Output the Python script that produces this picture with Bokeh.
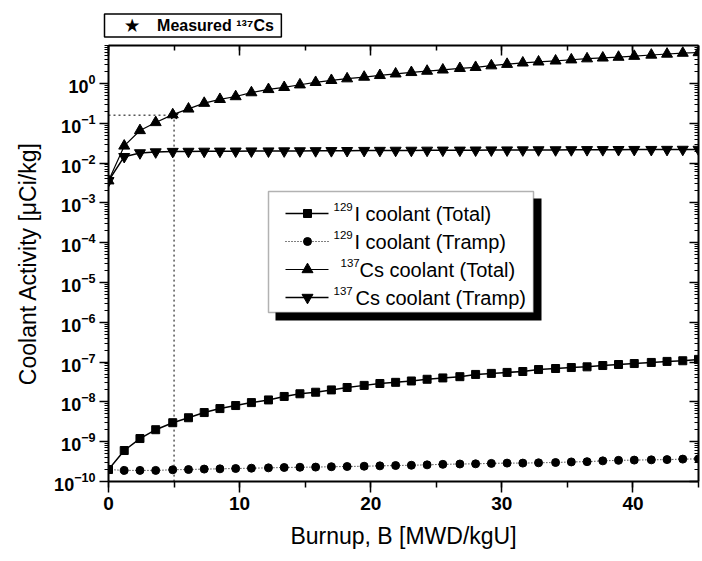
import math
from bokeh.plotting import figure
from bokeh.models import (LinearAxis, LogAxis, Range1d, SingleIntervalTicker,
                          FixedTicker, Label, BoxAnnotation, CustomJSTickFormatter)
from bokeh.embed import file_html
from bokeh.resources import INLINE

# ---------------- data ----------------
burnup = [0.0, 1.2, 2.4, 3.6, 4.9, 6.1, 7.3, 8.5, 9.7, 10.9,
          12.2, 13.4, 14.6, 15.8, 17.0, 18.2, 19.5, 20.7, 21.9, 23.1,
          24.3, 25.5, 26.8, 28.0, 29.2, 30.4, 31.6, 32.8, 34.1, 35.3,
          36.5, 37.7, 38.9, 40.1, 41.4, 42.6, 43.8, 45.0]

i129_total = [2.0e-10, 6.0e-10, 1.2e-9, 2.0e-9, 3.0e-9, 4.0e-9, 5.4e-9, 6.8e-9, 8.1e-9, 9.6e-9,
              1.12e-8, 1.37e-8, 1.6e-8, 1.75e-8, 2.0e-8, 2.3e-8, 2.6e-8, 2.9e-8, 3.1e-8, 3.35e-8,
              3.7e-8, 4.0e-8, 4.3e-8, 4.9e-8, 5.2e-8, 5.5e-8, 5.8e-8, 6.5e-8, 6.9e-8, 7.3e-8,
              7.6e-8, 8.2e-8, 8.7e-8, 9.2e-8, 9.8e-8, 1.04e-7, 1.08e-7, 1.17e-7]

i129_tramp = [2.0e-10, 1.9e-10, 1.9e-10, 1.9e-10, 1.97e-10, 2.0e-10, 2.05e-10, 2.08e-10, 2.12e-10, 2.16e-10,
              2.2e-10, 2.25e-10, 2.28e-10, 2.3e-10, 2.35e-10, 2.38e-10, 2.42e-10, 2.47e-10, 2.52e-10, 2.56e-10,
              2.62e-10, 2.7e-10, 2.75e-10, 2.78e-10, 2.85e-10, 2.9e-10, 2.9e-10, 2.95e-10, 3.0e-10, 3.1e-10,
              3.15e-10, 3.3e-10, 3.4e-10, 3.45e-10, 3.5e-10, 3.55e-10, 3.65e-10, 3.7e-10]

cs137_total = [3.6e-3, 0.027, 0.066, 0.105, 0.165, 0.23, 0.32, 0.40, 0.47, 0.59,
               0.71, 0.80, 0.93, 1.07, 1.2, 1.32, 1.45, 1.6, 1.75, 1.9,
               2.05, 2.2, 2.4, 2.55, 2.8, 3.05, 3.3, 3.5, 3.7, 3.95,
               4.2, 4.4, 4.6, 4.85, 5.2, 5.5, 5.8, 6.0]

cs137_tramp = [3.6e-3, 0.0145, 0.018, 0.019, 0.0195, 0.0196, 0.0197, 0.0198, 0.0199, 0.02,
               0.02, 0.0201, 0.0202, 0.0203, 0.0204, 0.0205, 0.0206, 0.0207, 0.0208, 0.0208,
               0.0209, 0.021, 0.021, 0.0211, 0.0212, 0.0212, 0.0213, 0.0214, 0.0214, 0.0215,
               0.0216, 0.0216, 0.0217, 0.0218, 0.0218, 0.0219, 0.022, 0.022]

measured_burnup = [5.0]
measured_cs137 = [0.16]

y_decades = list(range(-10, 1))

legend_sup = ["129", "129", "137", "137"]
legend_text = ["I coolant (Total)", "I coolant (Tramp)", "Cs coolant (Total)", "Cs coolant (Tramp)"]
NB = "\u00a0"
measured_label = NB * 4 + "\u2605" + NB * 4 + "Measured \u00b9\u00b3\u2077Cs" + NB

# ---------------- figure ----------------
FONT = "Liberation Sans"
X_MIN, X_MAX = 0.0, 45.0
Y_MIN, Y_MAX = 1e-10, 9.0
FW, FH = 590, 436  # frame size in px

p = figure(width=702, height=561, output_backend="svg", toolbar_location=None,
           y_axis_type="log", title=measured_label,
           x_range=Range1d(X_MIN, X_MAX), y_range=Range1d(Y_MIN, Y_MAX),
           min_border_left=108, min_border_right=4, min_border_top=45, min_border_bottom=80)
p.outline_line_color = None
p.grid.visible = False
p.background_fill_color = "white"
p.border_fill_color = "white"

t = p.title
t.text_font = FONT
t.text_font_size = "16px"
t.text_font_style = "bold"
t.text_color = "black"
t.align = "left"
t.offset = -4
t.standoff = 17
t.border_line_color = "black"
t.border_line_width = 1.5
t.background_fill_color = "white"
t.padding = 3

LY0, LY1 = math.log10(Y_MIN), math.log10(Y_MAX)


def xd(px):
    """frame-relative px -> data x"""
    return X_MIN + px / FW * (X_MAX - X_MIN)


def yd(py):
    """frame-relative px (upwards) -> data y"""
    return 10 ** (LY0 + py / FH * (LY1 - LY0))


def slabel(x, y, text, size, style="normal", align="left", font=FONT):
    p.add_layout(Label(x=x, y=y, x_units="screen", y_units="screen", text=text,
                       text_align=align, text_baseline="middle", text_font=font,
                       text_font_size=size, text_font_style=style, text_color="black"))


blank = CustomJSTickFormatter(code="return ''")
xticker = SingleIntervalTicker(interval=10, num_minor_ticks=2)
y_major = [10.0 ** k for k in y_decades]
y_minor = [m * 10.0 ** k for k in y_decades for m in range(2, 10) if m * 10.0 ** k <= Y_MAX]
yticker = FixedTicker(ticks=y_major, minor_ticks=y_minor)

xa = p.xaxis[0]
xa.ticker = xticker
xa.axis_line_width = 2
xa.major_tick_line_width = 1.5
xa.minor_tick_line_width = 1.5
xa.major_tick_out = 11
xa.major_tick_in = 0
xa.minor_tick_out = 6
xa.minor_tick_in = 0
xa.major_label_text_font = FONT
xa.major_label_text_font_size = "19px"
xa.major_label_text_font_style = "bold"
xa.major_label_text_color = "black"
xa.major_label_standoff = 4
xa.axis_label = "Burnup, B [MWD/kgU]"
xa.axis_label_text_font = FONT
xa.axis_label_text_font_size = "23px"
xa.axis_label_text_font_style = "normal"
xa.axis_label_text_color = "black"
xa.axis_label_standoff = 10

ya = p.yaxis[0]
ya.ticker = yticker
ya.axis_line_width = 2
ya.major_tick_line_width = 1.5
ya.minor_tick_line_width = 1.2
ya.major_tick_out = 9
ya.major_tick_in = 0
ya.minor_tick_out = 4
ya.minor_tick_in = 0
ya.major_label_text_font = FONT
ya.major_label_text_font_size = "18px"
ya.major_label_text_font_style = "bold"
ya.major_label_text_color = "black"
ya.major_label_standoff = 4
ya.axis_label = "Coolant Activity [\u03bcCi/kg]"
ya.axis_label_text_font = FONT
ya.axis_label_text_font_size = "23px"
ya.axis_label_text_font_style = "normal"
ya.axis_label_text_color = "black"
ya.axis_label_standoff = 10

top = LinearAxis(ticker=xticker, formatter=blank, axis_line_width=2,
                 major_tick_in=10, major_tick_out=0, minor_tick_in=5, minor_tick_out=0,
                 major_tick_line_width=1.5, minor_tick_line_width=1.5,
                 major_label_standoff=0, major_label_text_font_size="1px")
p.add_layout(top, "above")

right = LogAxis(ticker=yticker, formatter=blank, axis_line_width=2,
                major_tick_in=9, major_tick_out=0, minor_tick_in=4, minor_tick_out=0,
                major_tick_line_width=1.5, minor_tick_line_width=1.2,
                major_label_standoff=0, major_label_text_font_size="1px")
p.add_layout(right, "right")

# ---------------- measured reference guides ----------------
p.line([X_MIN, measured_burnup[0], measured_burnup[0]],
       [measured_cs137[0], measured_cs137[0], Y_MIN],
       line_color="black", line_width=1, line_dash="2 3")
p.scatter(measured_burnup, measured_cs137, marker="star", size=9, color="black")

# ---------------- series ----------------
p.line(burnup, i129_total, line_color="black", line_width=1.5)
p.scatter(burnup, i129_total, marker="square", size=8, color="black")

p.line(burnup, i129_tramp, line_color="black", line_width=1, line_dash="1 2")
p.scatter(burnup, i129_tramp, marker="circle", size=8, color="black")

p.line(burnup, cs137_total, line_color="black", line_width=1.2)
p.scatter(burnup, cs137_total, marker="triangle", size=11, color="black")

p.line(burnup, cs137_tramp, line_color="black", line_width=1.5)
p.scatter(burnup, cs137_tramp, marker="inverted_triangle", size=11, color="black")

# ---------------- inner legend (manual, with shadow) ----------------
p.add_layout(BoxAnnotation(left=xd(167), right=xd(433), bottom=yd(161), top=yd(283),
                           fill_color="black", fill_alpha=1, line_color=None, level="underlay"))
p.add_layout(BoxAnnotation(left=xd(160), right=xd(425), bottom=yd(169), top=yd(290),
                           fill_color="white", fill_alpha=1, line_color="black", line_width=1.5,
                           level="underlay"))

rows_y = [268, 240, 212, 184]
markers = ["square", "circle", "triangle", "inverted_triangle"]
msizes = [8, 8, 11, 11]
dashes = ["solid", "1 2", "solid", "solid"]
lwidths = [1.5, 1, 1.2, 1.5]
sup_x = [225, 225, 232, 225]
txt_x = [246, 246, 251, 247]
for i in range(4):
    ry = yd(rows_y[i])
    p.line([xd(177), xd(220)], [ry, ry], line_color="black", line_width=lwidths[i], line_dash=dashes[i])
    p.scatter([xd(199)], [ry], marker=markers[i], size=msizes[i], color="black")
    slabel(sup_x[i], rows_y[i] + 7, legend_sup[i], "11.5px")
    slabel(txt_x[i], rows_y[i], legend_text[i], "20px")

open("out.html", "w").write(file_html(p, INLINE))
